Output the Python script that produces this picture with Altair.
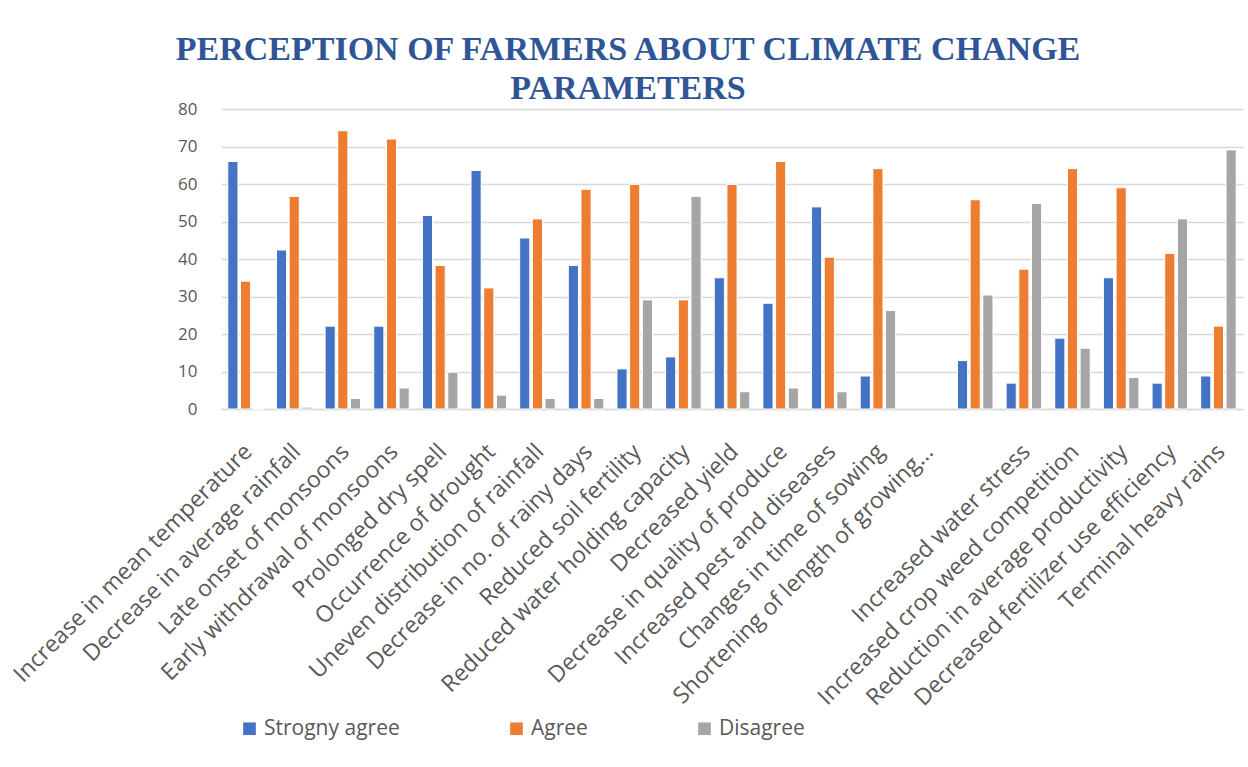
import altair as alt
import pandas as pd

categories = [
    "Increase in mean temperature",
    "Decrease in average rainfall",
    "Late onset of monsoons",
    "Early withdrawal of monsoons",
    "Prolonged dry spell",
    "Occurrence of drought",
    "Uneven distribution of rainfall",
    "Decrease in no. of rainy days",
    "Reduced soil fertility",
    "Reduced water holding capacity",
    "Decreased yield",
    "Decrease in quality of produce",
    "Increased pest and diseases",
    "Changes in time of sowing",
    "Shortening of length of growing…",
    " ",
    "Increased water stress",
    "Increased crop weed competition",
    "Reduction in average productivity",
    "Decreased fertilizer use efficiency",
    "Terminal heavy rains",
]

series = ["Strogny agree", "Agree", "Disagree"]
colors = ["#4472C4", "#ED7D31", "#A5A5A5"]

strongly_agree = [66.0, 42.4, 22.1, 22.1, 51.6, 63.6, 45.6, 38.3, 10.7, 13.9, 35.0,
                  28.2, 53.9, 8.8, None, 12.9, 6.9, 18.9, 35.0, 6.9, 8.8]
agree = [34.1, 56.7, 74.2, 72.0, 38.3, 32.3, 50.7, 58.6, 59.9, 29.1, 59.9,
         66.0, 40.5, 64.1, None, 55.8, 37.3, 64.1, 59.0, 41.5, 22.1]
disagree = [0.0, 0.5, 2.8, 5.6, 9.8, 3.7, 2.8, 2.8, 29.1, 56.7, 4.6,
            5.6, 4.6, 26.3, None, 30.4, 54.8, 16.2, 8.4, 50.7, 69.1]

y_ticks = [0, 10, 20, 30, 40, 50, 60, 70, 80]

rows = []
for name, vals in zip(series, [strongly_agree, agree, disagree]):
    for cat, v in zip(categories, vals):
        if v is not None:
            rows.append({"Parameter": cat, "Response": name, "Value": v})
df = pd.DataFrame(rows)

label_font = "Open Sans"
grey_text = "#595959"

chart = alt.Chart(df).mark_bar(stroke="white", strokeWidth=1).encode(
    x=alt.X(
        "Parameter:N",
        sort=categories,
        scale=alt.Scale(domain=categories, paddingInner=0.27, paddingOuter=0.14),
        axis=alt.Axis(
            title=None,
            labelAngle=-45,
            labelAlign="right",
            labelBaseline="top",
            labelFont=label_font,
            labelFontSize=23,
            labelColor=grey_text,
            labelPadding=31,
            labelOffset=-5,
            labelLimit=500,
            ticks=False,
            grid=False,
            domainColor="#D9D9D9",
            domainWidth=1.5,
            labelOverlap=False,
        ),
    ),
    xOffset=alt.XOffset(
        "Response:N",
        sort=series,
        scale=alt.Scale(domain=series, paddingInner=0.2),
    ),
    y=alt.Y(
        "Value:Q",
        scale=alt.Scale(domain=[0, 80], nice=False),
        axis=alt.Axis(
            title=None,
            values=y_ticks,
            labelFont=label_font,
            labelFontSize=17,
            labelColor=grey_text,
            labelPadding=24,
            ticks=False,
            domain=False,
            gridColor="#D9D9D9",
            gridWidth=1.5,
        ),
    ),
    color=alt.Color(
        "Response:N",
        sort=series,
        scale=alt.Scale(domain=series, range=colors),
        legend=alt.Legend(
            title=None,
            orient="none",
            legendX=18,
            legendY=609,
            direction="horizontal",
            columns=3,
            columnPadding=106,
            symbolType="square",
            symbolSize=160,
            symbolStrokeWidth=0,
            labelFont=label_font,
            labelFontSize=21,
            labelColor=grey_text,
            labelOffset=4,
        ),
    ),
).properties(
    width=1022,
    height=300,
    title=alt.TitleParams(
        text=["PERCEPTION OF FARMERS ABOUT CLIMATE CHANGE", "PARAMETERS"],
        font="Liberation Serif",
        fontSize=34,
        fontWeight="bold",
        color="#2F5597",
        anchor="middle",
        frame="group",
        lineHeight=39,
        offset=-6,
        dx=-104,
    ),
    autosize=alt.AutoSizeParams(type="none"),
    padding={"left": 221, "top": 109, "right": 5, "bottom": 358},
).configure(background="white").configure_view(stroke=None, strokeWidth=0, strokeOpacity=0)

chart.save("out.html", embed_options={"renderer": "svg", "actions": False})
